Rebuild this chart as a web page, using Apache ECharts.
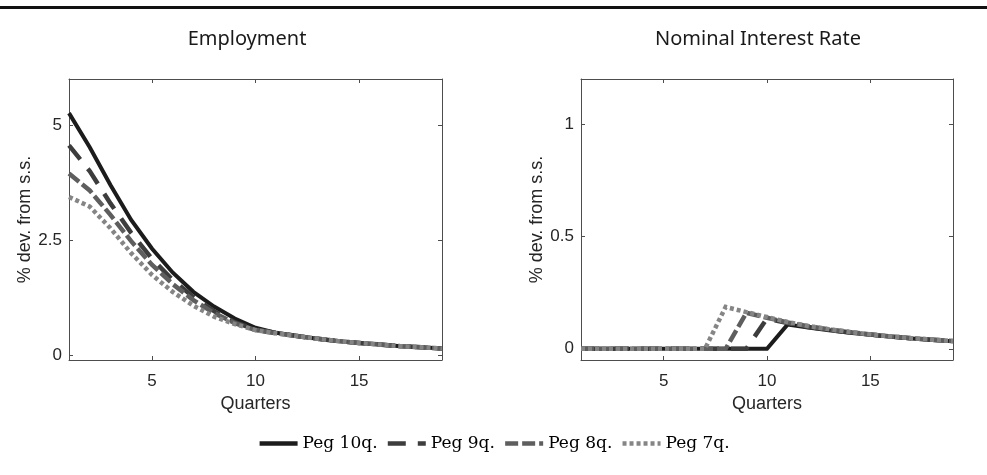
<!DOCTYPE html>
<html>
<head>
<meta charset="utf-8">
<script src="https://cdn.jsdelivr.net/npm/echarts@6/dist/echarts.min.js"></script>
<style>
html,body{margin:0;padding:0;background:#fff;}
#main{width:987px;height:475px;}
</style>
</head>
<body>
<div id="main"></div>
<script>
// ---- data ----
var quarters = [1,2,3,4,5,6,7,8,9,10,11,12,13,14,15,16,17,18,19];
var seriesNames = ['Peg 10q.', 'Peg 9q.', 'Peg 8q.', 'Peg 7q.'];
var panelTitles = ['Employment', 'Nominal Interest Rate'];
var yAxisLabel = '% dev. from s.s.';
var xAxisLabel = 'Quarters';
var xTicks = [5, 10, 15];
var empTicks = [0, 2.5, 5];
var rateTicks = [0, 0.5, 1];

var empPeg10 = [5.26, 4.52, 3.70, 2.94, 2.32, 1.80, 1.38, 1.06, 0.80, 0.60, 0.49, 0.42, 0.36, 0.31, 0.27, 0.235, 0.20, 0.175, 0.15];
var empPeg9  = [4.56, 4.00, 3.30, 2.66, 2.10, 1.64, 1.27, 0.96, 0.72, 0.56, 0.49, 0.42, 0.36, 0.31, 0.27, 0.235, 0.20, 0.175, 0.15];
var empPeg8  = [3.95, 3.58, 3.05, 2.48, 1.97, 1.55, 1.20, 0.92, 0.70, 0.55, 0.48, 0.42, 0.36, 0.31, 0.27, 0.235, 0.20, 0.175, 0.15];
var empPeg7  = [3.44, 3.23, 2.76, 2.22, 1.75, 1.38, 1.08, 0.84, 0.68, 0.55, 0.48, 0.42, 0.36, 0.31, 0.27, 0.235, 0.20, 0.175, 0.15];

var ratePeg10 = [0, 0, 0, 0, 0, 0, 0, 0, 0, 0, 0.108, 0.094, 0.082, 0.071, 0.062, 0.053, 0.046, 0.039, 0.033];
var ratePeg9  = [0, 0, 0, 0, 0, 0, 0, 0, 0, 0.135, 0.114, 0.097, 0.084, 0.073, 0.063, 0.054, 0.047, 0.040, 0.034];
var ratePeg8  = [0, 0, 0, 0, 0, 0, 0, 0, 0.160, 0.138, 0.117, 0.100, 0.086, 0.074, 0.064, 0.055, 0.047, 0.040, 0.034];
var ratePeg7  = [0, 0, 0, 0, 0, 0, 0, 0.186, 0.163, 0.141, 0.119, 0.101, 0.087, 0.075, 0.064, 0.055, 0.047, 0.040, 0.034];

// ---- styling ----
var styles = [
  {color: '#1c1c1c', type: 'solid', width: 4},
  {color: '#3d3d3d', type: [18, 12], width: 4.5},
  {color: '#5e5e5e', type: [13, 4], width: 4.5},
  {color: '#858585', type: [4, 3], width: 4.5}
];
var axisColor = '#4d4d4d';
var textColor = '#262626';

function pairs(vals){ return quarters.map(function(q,i){ return [q, vals[i]]; }); }

var chart = echarts.init(document.getElementById('main'), null, {renderer: 'canvas'});

var grids = [
  {left: 69, top: 79, width: 373, height: 281},
  {left: 581, top: 79, width: 372, height: 281}
];

function mkX(gi, pos, showLabel) {
  return {
    type: 'value', gridIndex: gi, position: pos, min: 1, max: 19,
    name: showLabel ? xAxisLabel : '', nameLocation: 'middle', nameGap: 34,
    nameTextStyle: {fontFamily: 'Liberation Sans', fontSize: 18, color: textColor},
    axisLine: {show: true, onZero: false, lineStyle: {color: axisColor, width: 1}},
    axisTick: {show: true, inside: true, length: 4, customValues: xTicks, lineStyle: {color: axisColor}},
    axisLabel: {show: showLabel, customValues: xTicks, margin: 13, fontFamily: 'Liberation Sans', fontSize: 17, color: textColor},
    splitLine: {show: false}
  };
}
function mkY(gi, pos, showLabel, mn, mx, ticks) {
  return {
    type: 'value', gridIndex: gi, position: pos, min: mn, max: mx,
    name: showLabel ? yAxisLabel : '', nameLocation: 'middle', nameGap: 33, nameRotate: 90,
    nameTextStyle: {fontFamily: 'Liberation Sans', fontSize: 18, color: textColor},
    axisLine: {show: true, onZero: false, lineStyle: {color: axisColor, width: 1}},
    axisTick: {show: true, inside: true, length: 4, customValues: ticks, lineStyle: {color: axisColor}},
    axisLabel: {show: showLabel, customValues: ticks, margin: 7, fontFamily: 'Liberation Sans', fontSize: 17, color: textColor},
    splitLine: {show: false}
  };
}

var empData = [empPeg10, empPeg9, empPeg8, empPeg7];
var rateData = [ratePeg10, ratePeg9, ratePeg8, ratePeg7];
var series = [];
seriesNames.forEach(function(n, i){
  series.push({
    name: n, type: 'line', xAxisIndex: 0, yAxisIndex: 0, data: pairs(empData[i]),
    symbol: 'none', z: 2 + i,
    lineStyle: {color: styles[i].color, type: styles[i].type, width: styles[i].width, cap: 'butt', join: 'miter'},
    itemStyle: {color: styles[i].color}
  });
});
seriesNames.forEach(function(n, i){
  series.push({
    name: n, type: 'line', xAxisIndex: 2, yAxisIndex: 2, data: pairs(rateData[i]),
    symbol: 'none', z: 2 + i,
    lineStyle: {color: styles[i].color, type: styles[i].type, width: styles[i].width, cap: 'butt', join: 'miter'},
    itemStyle: {color: styles[i].color}
  });
});

chart.setOption({
  animation: false,
  backgroundColor: '#ffffff',
  title: [
    {text: panelTitles[0], left: 242, top: 24, textAlign: 'center',
     textStyle: {fontFamily: 'Noto Sans', fontWeight: 'normal', fontSize: 20, color: '#1a1a1a'}},
    {text: panelTitles[1], left: 753, top: 24, textAlign: 'center',
     textStyle: {fontFamily: 'Noto Sans', fontWeight: 'normal', fontSize: 20, color: '#1a1a1a'}}
  ],
  grid: grids,
  xAxis: [mkX(0, 'bottom', true), mkX(0, 'top', false), mkX(1, 'bottom', true), mkX(1, 'top', false)],
  yAxis: [mkY(0, 'left', true, -0.1, 6, empTicks), mkY(0, 'right', false, -0.1, 6, empTicks),
          mkY(1, 'left', true, -0.05, 1.2, rateTicks), mkY(1, 'right', false, -0.05, 1.2, rateTicks)],
  legend: {
    data: seriesNames, left: 'center', top: 430, itemWidth: 38, itemHeight: 12, itemGap: 8,
    itemStyle: {opacity: 0},
    lineStyle: {width: 4.5, cap: 'butt'},
    textStyle: {fontFamily: 'DejaVu Serif', fontSize: 17, color: '#000'}
  },
  graphic: [
    {type: 'rect', shape: {x: 0, y: 6, width: 987, height: 3}, style: {fill: '#111'}}
  ],
  series: series
});
</script>
</body>
</html>
